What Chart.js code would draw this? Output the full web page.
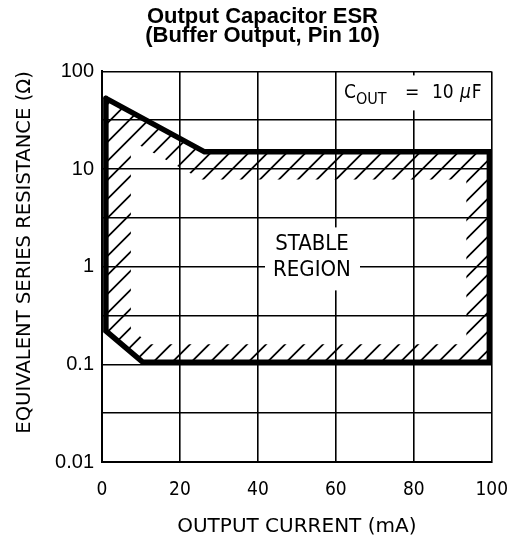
<!DOCTYPE html>
<html>
<head>
<meta charset="utf-8">
<script src="https://cdn.jsdelivr.net/npm/chart.js@4.4.0/dist/chart.umd.min.js"></script>
<style>
  html, body { margin: 0; padding: 0; background: #fff; }
  #wrap { width: 525px; height: 546px; }
</style>
</head>
<body>
<div id="wrap"><canvas id="esr"></canvas></div>
<script>
const xTicks = [0, 20, 40, 60, 80, 100];
const yTicks = [0.01, 0.0316, 0.1, 0.316, 1, 3.16, 10, 31.6, 100];
const yLabels = ['0.01', '', '0.1', '', '1', '', '10', '', '100'];

// stable region boundary, output current (mA) vs ESR (ohm)
const edgeCurrent = [1, 26.3, 99.4, 99.4, 10.5, 1, 1];
const edgeEsr = [53, 15, 15, 0.105, 0.105, 0.22, 53];

// inner edge of the hatched band
const bandCurrent = [7.4, 7.4, 12.2, 93.5, 93.5, 25.6, 7.4];
const bandEsr = [19.6, 0.233, 0.161, 0.161, 7.8, 7.8, 19.6];

const condensed = '"DejaVu Sans Condensed", "Liberation Sans Narrow", sans-serif';

function trace(ctx, xs, ys, sx, sy) {
  xs.forEach((c, i) => {
    const px = sx.getPixelForValue(c), py = sy.getPixelForValue(ys[i]);
    if (i) ctx.lineTo(px, py); else ctx.moveTo(px, py);
  });
  ctx.closePath();
}

const hatch = {
  id: 'hatch',
  beforeDatasetsDraw(chart) {
    const {ctx, chartArea: a} = chart;
    const sx = chart.scales.x, sy = chart.scales.y;
    ctx.save();
    ctx.beginPath();
    trace(ctx, edgeCurrent, edgeEsr, sx, sy);
    trace(ctx, bandCurrent, bandEsr, sx, sy);
    ctx.clip('evenodd');
    ctx.strokeStyle = '#000';
    ctx.lineWidth = 1.8;
    ctx.beginPath();
    const h = a.bottom - a.top;
    for (let k = a.left - h; k < a.right + 20; k += 19) {
      ctx.moveTo(k, a.bottom);
      ctx.lineTo(k + h, a.top);
    }
    ctx.stroke();
    ctx.restore();

    // text boxes over the grid
    ctx.save();
    ctx.fillStyle = '#fff';
    ctx.fillRect(a.left + 163, a.top + 156, 95, 63);
    ctx.fillRect(a.left + 236, a.top + 4, 152, 35);
    ctx.fillStyle = '#000';
    ctx.textAlign = 'center';
    ctx.textBaseline = 'middle';
    ctx.font = '22px ' + condensed;
    ctx.fillText('STABLE', a.left + 210, a.top + 173);
    ctx.fillText('REGION', a.left + 210, a.top + 199);

    ctx.textAlign = 'left';
    ctx.textBaseline = 'alphabetic';
    let cx = a.left + 242;
    const base = a.top + 27;
    ctx.font = '19px ' + condensed;
    ctx.fillText('C', cx, base);
    cx += ctx.measureText('C').width;
    ctx.font = '16px ' + condensed;
    ctx.fillText('OUT', cx, base + 6);
    ctx.font = '19px ' + condensed;
    ctx.fillText('=', a.left + 303, base);
    ctx.fillText('10', a.left + 330, base);
    ctx.font = 'italic 19px ' + condensed;
    ctx.fillText('\u00b5', a.left + 358, base);
    cx = a.left + 358 + ctx.measureText('\u00b5').width + 1;
    ctx.font = '19px ' + condensed;
    ctx.fillText('F', cx, base);
    ctx.restore();

    // y axis title
    ctx.save();
    ctx.translate(25, a.top + 181);
    ctx.rotate(-Math.PI / 2);
    ctx.fillStyle = '#000';
    ctx.textAlign = 'center';
    ctx.textBaseline = 'middle';
    ctx.font = '19.6px "DejaVu Sans", sans-serif';
    ctx.fillText('EQUIVALENT SERIES RESISTANCE (\u03a9)', 0, 0);
    ctx.restore();
  }
};

const ctx = document.getElementById('esr');
new Chart(ctx, {
  type: 'line',
  data: {
    datasets: [{
      data: edgeCurrent.map((c, i) => ({x: c, y: edgeEsr[i]})),
      borderColor: '#000',
      borderWidth: 5.5,
      borderJoinStyle: 'miter',
      borderCapStyle: 'round',
      pointRadius: 0,
      fill: false,
      tension: 0
    }]
  },
  options: {
    responsive: true,
    maintainAspectRatio: false,
    animation: false,
    layout: { padding: 0 },
    plugins: {
      legend: { display: false },
      tooltip: { enabled: false },
      title: {
        display: true,
        text: ['Output Capacitor ESR', '(Buffer Output, Pin 10)'],
        color: '#000',
        font: { family: '"Liberation Sans", Arial, sans-serif', size: 22, weight: 'bold', lineHeight: 0.85 },
        padding: { top: 8, bottom: 26 }
      }
    },
    scales: {
      x: {
        type: 'linear',
        min: 0,
        max: 100,
        afterBuildTicks(s) { s.ticks = xTicks.map(v => ({value: v})); },
        ticks: { color: '#000', font: { family: condensed, size: 19 }, padding: 17, maxRotation: 0 },
        grid: { color: '#000', lineWidth: 1.6, drawTicks: false },
        border: { color: '#000', width: 2 },
        title: {
          display: true,
          text: 'OUTPUT CURRENT (mA)',
          color: '#000',
          font: { family: '"DejaVu Sans", sans-serif', size: 20 },
          padding: { top: 4, bottom: 7 }
        },
        afterFit(s) { s.height = 84; }
      },
      y: {
        type: 'logarithmic',
        min: 0.01,
        max: 100,
        afterBuildTicks(s) { s.ticks = yTicks.map(v => ({value: v})); },
        ticks: {
          color: '#000',
          autoSkip: false,
          font: { family: '"Liberation Sans", Arial, sans-serif', size: 20 },
          padding: 8,
          callback: (v, i) => yLabels[i]
        },
        grid: { color: '#000', lineWidth: 1.6, drawTicks: false },
        border: { color: '#000', width: 2 },
        afterFit(s) { s.width = 102; }
      },
      // empty right gutter so the title centres on the page
      gutter: {
        position: 'right',
        ticks: { display: false },
        grid: { display: false, drawTicks: false },
        border: { display: false },
        afterFit(s) { s.width = 32; }
      }
    }
  },
  plugins: [hatch]
});
</script>
</body>
</html>
